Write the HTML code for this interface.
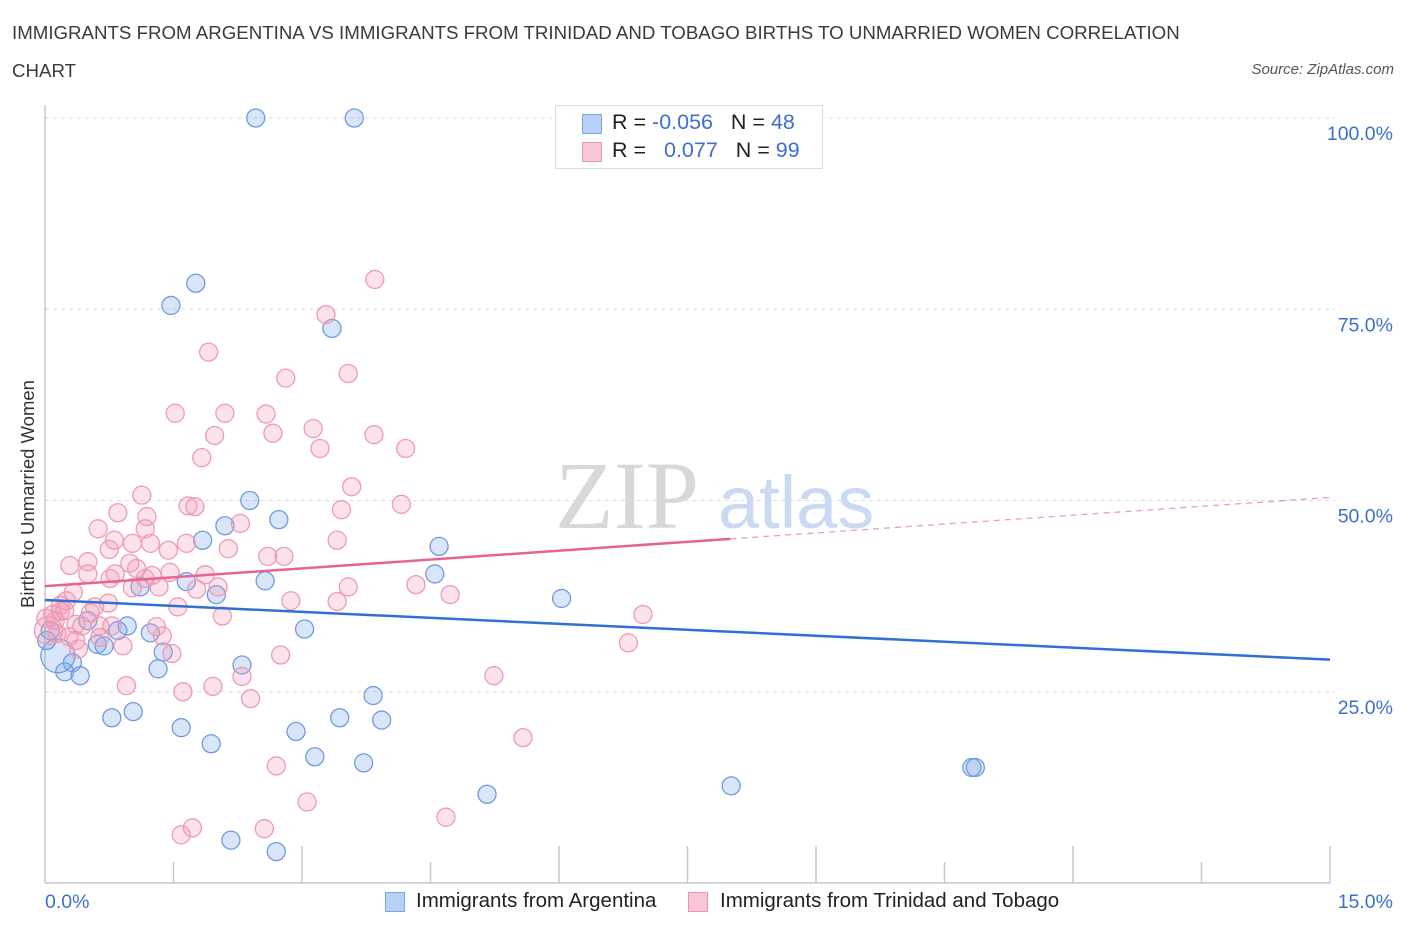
<!DOCTYPE html>
<html><head><meta charset="utf-8">
<style>
body{margin:0;background:#fff;font-family:"Liberation Sans",sans-serif;}
#wrap{position:relative;width:1406px;height:930px;overflow:hidden;}
.t{position:absolute;white-space:nowrap;}
</style></head>
<body>
<div id="wrap">
<div class="t" style="left:12px;top:14px;font-size:18.7px;color:#3a3a3a;line-height:38px;">IMMIGRANTS FROM ARGENTINA VS IMMIGRANTS FROM TRINIDAD AND TOBAGO BIRTHS TO UNMARRIED WOMEN CORRELATION<br>CHART</div>
<div class="t" style="right:12px;top:61px;font-size:15px;color:#555;font-style:italic;">Source: ZipAtlas.com</div>
<div class="t" style="left:28px;top:494px;font-size:18.5px;color:#333;transform:translate(-50%,-50%) rotate(-90deg);">Births to Unmarried Women</div>
<svg id="svg" width="1406" height="930" style="position:absolute;left:0;top:0"></svg>
<div style="position:absolute;left:555px;top:105px;width:266px;height:62px;border:1px solid #ddd;background:#fff;font-size:21.5px;color:#222;">
 <div style="position:absolute;left:26px;top:8px;width:18px;height:18px;background:#b7d0f5;border:1px solid #7ea6e6;"></div>
 <div class="t" style="left:56px;top:4px;">R = <span style="color:#3d6fd1">-0.056</span>&nbsp;&nbsp;&nbsp;N = <span style="color:#3d6fd1">48</span></div>
 <div style="position:absolute;left:26px;top:36px;width:18px;height:18px;background:#f8c6d5;border:1px solid #eb96b0;"></div>
 <div class="t" style="left:56px;top:32px;">R = &nbsp;&nbsp;<span style="color:#3d6fd1">0.077</span>&nbsp;&nbsp;&nbsp;N = <span style="color:#3d6fd1">99</span></div>
</div>
<div style="position:absolute;left:385px;top:892px;font-size:20.5px;color:#222;">
 <div style="position:absolute;left:0;top:0;width:18px;height:18px;background:#b7d0f5;border:1px solid #7ea6e6;"></div>
 <div class="t" style="left:31px;top:-3px;">Immigrants from Argentina</div></div>
<div style="position:absolute;left:688px;top:892px;font-size:20.5px;color:#222;">
 <div style="position:absolute;left:0;top:0;width:18px;height:18px;background:#f8c6d5;border:1px solid #eb96b0;"></div>
 <div class="t" style="left:32px;top:-3px;">Immigrants from Trinidad and Tobago</div></div>
</div>
<script>
const xTicks=[0,1.5,3,4.5,6,7.5,9,10.5,12,13.5,15];
const yTicks=[25,50,75,100];
const yTickLabels=["25.0%","50.0%","75.0%","100.0%"];
const blueX=[2.46,3.61,1.76,1.47,3.35,2.39,2.73,1.84,2.10,4.60,4.55,2.57,1.65,1.11,2.00,6.03,0.50,0.96,0.85,1.23,3.03,0.61,0.69,1.38,0.15,0.32,2.30,1.32,0.23,0.41,3.83,0.78,1.03,1.59,2.93,3.44,3.93,1.94,3.15,3.72,5.16,8.01,10.82,10.86,2.17,2.70,0.06,0.02];
const blueY=[100,100,78.4,75.5,72.5,50.0,47.5,44.8,46.7,44.0,40.4,39.5,39.4,38.7,37.7,37.2,34.3,33.6,33.0,32.7,33.2,31.2,31.0,30.2,29.7,28.8,28.5,28.0,27.6,27.1,24.5,21.6,22.4,20.3,19.8,21.6,21.3,18.2,16.5,15.7,11.6,12.7,15.1,15.1,5.6,4.1,33.0,31.7];
const pinkX=[3.85,3.28,1.91,2.81,3.54,1.52,2.10,2.58,3.13,1.98,2.66,3.84,1.83,3.21,4.21,1.13,3.58,1.67,1.75,0.85,1.19,3.46,4.16,0.62,2.28,1.17,0.81,1.02,1.23,1.65,3.41,0.75,1.44,2.60,2.79,0.50,0.99,0.29,0.50,0.82,1.25,1.46,1.07,1.87,0.76,1.33,1.02,2.02,1.77,4.33,3.54,4.73,0.33,0.74,0.58,1.55,2.87,3.41,6.98,2.07,0.18,0.09,0.23,0.12,0.64,0.36,0.78,1.30,1.37,0.14,0.36,0.91,0.28,0.39,1.48,2.75,6.81,2.30,5.24,0.95,1.96,1.61,2.40,5.58,2.70,3.06,4.68,1.59,1.72,2.56,0.04,0.01,0.53,0.25,0.18,0.43,0.64,1.17,2.14];
const pinkY=[78.9,74.3,69.4,66.0,66.6,61.4,61.4,61.3,59.4,58.5,58.8,58.6,55.6,56.8,56.8,50.7,51.8,49.3,49.2,48.4,47.9,48.8,49.5,46.3,47.0,46.3,44.8,44.4,44.4,44.4,44.8,43.6,43.5,42.7,42.7,42.0,41.8,41.5,40.4,40.4,40.2,40.6,41.1,40.3,39.8,38.7,38.6,38.7,38.4,39.0,38.7,37.7,38.0,36.6,36.1,36.1,36.9,36.8,35.1,34.9,35.5,35.1,35.6,34.3,33.6,33.8,33.6,33.5,32.3,32.6,31.7,31.0,32.2,30.6,30.0,29.8,31.4,27.0,27.1,25.8,25.7,25.0,24.1,19.0,15.3,10.6,8.6,6.3,7.2,7.1,33.0,34.6,35.3,36.9,36.3,33.6,32.1,39.8,43.7];
const blueTrend=[37.0,29.2];
const pinkTrend=[38.8,50.4];
const pinkSolidEnd=8.0;
const X0=45,X1=1330,Y0=883,YT=118;
const sx=v=>X0+v/15*(X1-X0);
const sy=v=>Y0-v/100*(Y0-YT);
const svg=document.getElementById('svg');
const NS='http://www.w3.org/2000/svg';
function mk(tag,attrs,parent){const e=document.createElementNS(NS,tag);for(const k in attrs)e.setAttribute(k,attrs[k]);(parent||svg).appendChild(e);return e;}
yTicks.forEach((t,i)=>{
 const g=mk('line',{x1:X0,x2:1335,y1:sy(t),y2:sy(t),stroke:'#dcdcdc','stroke-dasharray':'4,4'});
 
 
 const l=mk('text',{x:1393,y:sy(t)+22,'text-anchor':'end','font-size':19.5,fill:'#3d6fd1','font-family':'Liberation Sans, sans-serif'});
 l.textContent=yTickLabels[i];
 
 
});
xTicks.forEach((t,i)=>{
 if(i===0)return;
 const tk=mk('line',{x1:sx(t),x2:sx(t),y1:(i%2===0||i===5)?846:862,y2:Y0,stroke:'#c8c8c8','stroke-width':1.5});
 
 
});
const ax=mk('line',{x1:X0,x2:X1,y1:Y0,y2:Y0,stroke:'#c8c8c8','stroke-width':1.5});


const ay=mk('line',{x1:X0,x2:X0,y1:105,y2:Y0,stroke:'#c8c8c8','stroke-width':1.5});


const xl0=mk('text',{x:45,y:908,'font-size':19.5,fill:'#3d6fd1','font-family':'Liberation Sans, sans-serif'});xl0.textContent='0.0%';


const xl1=mk('text',{x:1393,y:908,'text-anchor':'end','font-size':19.5,fill:'#3d6fd1','font-family':'Liberation Sans, sans-serif'});xl1.textContent='15.0%';


const wm=mk('text',{x:555,y:528,'font-size':96,fill:'#d8d8d8','font-family':'Liberation Serif, serif'});wm.textContent='ZIP';


const wm2=mk('text',{x:718,y:528,'font-size':74,fill:'#c9daf2','font-family':'Liberation Sans, sans-serif'});wm2.textContent='atlas';


blueX.forEach((x,i)=>{
 const c=mk('circle',{cx:sx(x),cy:sy(blueY[i]),r:(i===24?17:9),fill:'rgba(120,165,235,0.28)',stroke:'#6e9be0','stroke-width':1.3});
 
 
});
pinkX.forEach((x,i)=>{
 const c=mk('circle',{cx:sx(x),cy:sy(pinkY[i]),r:(i===90?14:9),fill:'rgba(245,150,180,0.28)',stroke:'#ee9ab4','stroke-width':1.3});
 
 
});
const bt=mk('line',{x1:sx(0),y1:sy(blueTrend[0]),x2:sx(15),y2:sy(blueTrend[1]),stroke:'#2f6fd6','stroke-width':2.5});


const pm=pinkTrend[0]+(pinkTrend[1]-pinkTrend[0])*pinkSolidEnd/15;
const pt=mk('line',{x1:sx(0),y1:sy(pinkTrend[0]),x2:sx(pinkSolidEnd),y2:sy(pm),stroke:'#e8648f','stroke-width':2.5});


const pd=mk('line',{x1:sx(pinkSolidEnd),y1:sy(pm),x2:sx(15),y2:sy(pinkTrend[1]),stroke:'#e8a0b8','stroke-width':1.3,'stroke-dasharray':'6,5'});


</script>
</body></html>
